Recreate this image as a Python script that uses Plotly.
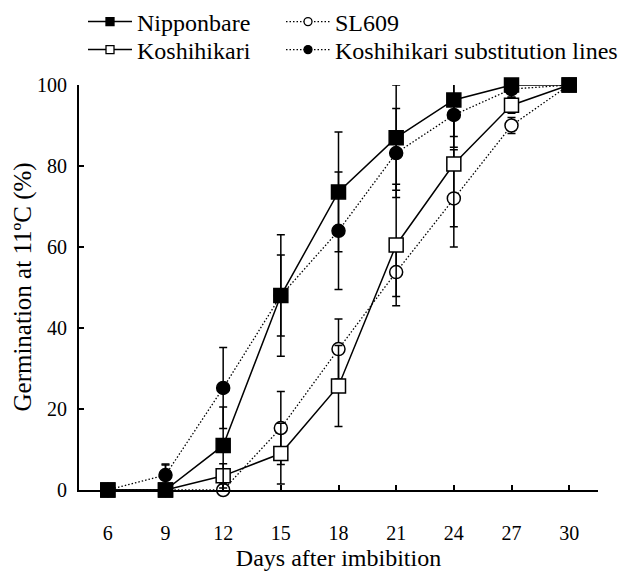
import plotly.graph_objects as go

days = [6, 9, 12, 15, 18, 21, 24, 27, 30]
tick_vals_x = [6, 9, 12, 15, 18, 21, 24, 27, 30]
tick_vals_y = [0, 20, 40, 60, 80, 100]

nipponbare = [0, 0, 11, 48, 73.6, 87, 96.3, 100, 100]
nipponbare_err = [0, 0, 9.5, 15, 14.8, 13, 9, 0, 0]

koshihikari = [0, 0, 3.5, 9, 25.7, 60.5, 80.5, 95, 100]
koshihikari_err = [0, 6.4, 3, 7.5, 10, 15, 15.5, 2, 0]

sl609 = [0, 0, 0, 15.3, 34.8, 53.8, 72, 90, 100]
sl609_err = [0, 0, 4.6, 9, 7.4, 6, 12, 2, 0]

subst = [0, 3.7, 25.2, 48, 64, 83.2, 92.6, 99, 100]
subst_err = [0, 2.5, 10, 10, 14.5, 11, 8, 2, 0]

FONT = "Liberation Serif"
DOT = "1.5px,2px"

STYLE = {
    "Nipponbare": dict(dash="solid", lw=1.5, symbol="square", fill="black", size=14),
    "Koshihikari": dict(dash="solid", lw=1.5, symbol="square", fill="white", size=14),
    "SL609": dict(dash=DOT, lw=1.3, symbol="circle", fill="white", size=13),
    "Koshihikari substitution lines": dict(dash=DOT, lw=1.3, symbol="circle", fill="black", size=13),
}


def err(vals):
    return dict(type="data", array=vals, visible=True, color="black",
                thickness=1.5, width=4)


fig = go.Figure()

# data traces (drawing order: circles below, squares on top)
for name, vals, e in [("SL609", sl609, sl609_err),
                      ("Koshihikari substitution lines", subst, subst_err),
                      ("Koshihikari", koshihikari, koshihikari_err),
                      ("Nipponbare", nipponbare, nipponbare_err)]:
    s = STYLE[name]
    fig.add_trace(go.Scatter(
        x=days, y=vals, name=name, mode="lines+markers", showlegend=False,
        line=dict(color="black", width=s["lw"], dash=s["dash"]),
        marker=dict(symbol=s["symbol"], size=s["size"], color=s["fill"],
                    line=dict(color="black", width=1.5)),
        error_y=err(e), cliponaxis=False))

# legend entries: one legend per entry, laid out in two rows x two columns
LEGEND_SLOTS = [("Nipponbare", "legend", 83, 22),
                ("SL609", "legend2", 281, 22),
                ("Koshihikari", "legend3", 83, 50),
                ("Koshihikari substitution lines", "legend4", 281, 50)]

leg_layout = {}
for name, leg, px, py in LEGEND_SLOTS:
    s = STYLE[name]
    fig.add_trace(go.Scatter(
        x=[None], y=[None], name=name, mode="lines+markers", legend=leg,
        line=dict(color="black", width=s["lw"], dash=s["dash"]),
        marker=dict(symbol=s["symbol"], size=8, color=s["fill"],
                    line=dict(color="black", width=1.3))))
    leg_layout[leg] = dict(orientation="h", xref="container", yref="container",
                           x=px / 623, y=1 - py / 571,
                           xanchor="left", yanchor="middle", itemwidth=44,
                           font=dict(family=FONT, size=24, color="black"),
                           itemsizing="trace", bgcolor="rgba(0,0,0,0)",
                           borderwidth=0)

fig.update_layout(
    width=623, height=571,
    margin=dict(l=79, r=25, t=85, b=81, autoexpand=False),
    paper_bgcolor="white", plot_bgcolor="white",
    font=dict(family=FONT, size=20, color="black"),
    showlegend=True,
    xaxis=dict(range=[4.5, 31.5], tickvals=tick_vals_x, ticks="inside",
               ticklen=5, tickwidth=1.5, tickcolor="black",
               showline=True, linewidth=2, linecolor="black",
               showgrid=False, zeroline=False, ticklabelstandoff=24,
               tickfont=dict(family=FONT, size=20),
               title=dict(text="Days after imbibition", standoff=6,
                          font=dict(family=FONT, size=24)),
               automargin=False),
    yaxis=dict(range=[0, 100], tickvals=tick_vals_y, ticks="inside",
               ticklen=5, tickwidth=1.5, tickcolor="black",
               showline=True, linewidth=2, linecolor="black",
               showgrid=False, zeroline=False, ticklabelstandoff=6,
               tickfont=dict(family=FONT, size=20),
               automargin=False),
    annotations=[dict(text="Germination at 11ºC (%)", textangle=-90,
                      xref="paper", yref="paper", x=-(79 - 22) / 519, y=0.5,
                      xanchor="center", yanchor="middle", showarrow=False,
                      font=dict(family=FONT, size=25, color="black"))],
)
fig.update_layout(**leg_layout)

fig.write_html("out.html")
